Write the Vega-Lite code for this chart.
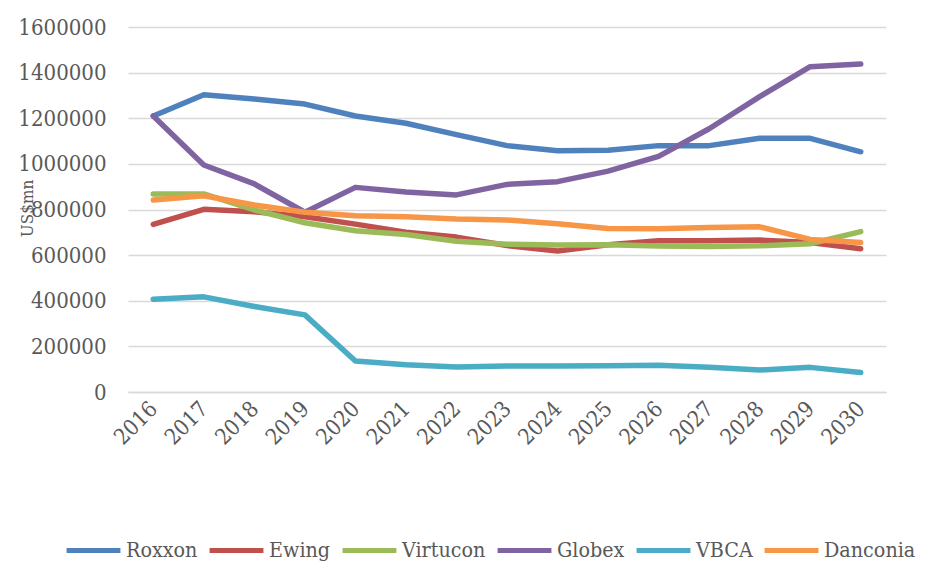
{
  "$schema": "https://vega.github.io/schema/vega-lite/v6.json",
  "autosize": {"type": "none"},
  "width": 758,
  "height": 365,
  "padding": {"left": 128, "top": 27, "right": 63, "bottom": 190},
  "background": "white",
  "config": {
    "view": {"stroke": null},
    "font": "DejaVu Serif Condensed"
  },
  "data": {
    "values": [
      {"year": "2016", "company": "Roxxon", "value": 1210000},
      {"year": "2017", "company": "Roxxon", "value": 1303000},
      {"year": "2018", "company": "Roxxon", "value": 1284000},
      {"year": "2019", "company": "Roxxon", "value": 1262000},
      {"year": "2020", "company": "Roxxon", "value": 1210000},
      {"year": "2021", "company": "Roxxon", "value": 1178000},
      {"year": "2022", "company": "Roxxon", "value": 1128000},
      {"year": "2023", "company": "Roxxon", "value": 1080000},
      {"year": "2024", "company": "Roxxon", "value": 1058000},
      {"year": "2025", "company": "Roxxon", "value": 1060000},
      {"year": "2026", "company": "Roxxon", "value": 1080000},
      {"year": "2027", "company": "Roxxon", "value": 1080000},
      {"year": "2028", "company": "Roxxon", "value": 1112000},
      {"year": "2029", "company": "Roxxon", "value": 1112000},
      {"year": "2030", "company": "Roxxon", "value": 1053000},
      {"year": "2016", "company": "Ewing", "value": 735000},
      {"year": "2017", "company": "Ewing", "value": 801000},
      {"year": "2018", "company": "Ewing", "value": 790000},
      {"year": "2019", "company": "Ewing", "value": 768000},
      {"year": "2020", "company": "Ewing", "value": 736000},
      {"year": "2021", "company": "Ewing", "value": 700000},
      {"year": "2022", "company": "Ewing", "value": 679000},
      {"year": "2023", "company": "Ewing", "value": 642000},
      {"year": "2024", "company": "Ewing", "value": 618000},
      {"year": "2025", "company": "Ewing", "value": 645000},
      {"year": "2026", "company": "Ewing", "value": 663000},
      {"year": "2027", "company": "Ewing", "value": 663000},
      {"year": "2028", "company": "Ewing", "value": 666000},
      {"year": "2029", "company": "Ewing", "value": 655000},
      {"year": "2030", "company": "Ewing", "value": 628000},
      {"year": "2016", "company": "Virtucon", "value": 868000},
      {"year": "2017", "company": "Virtucon", "value": 868000},
      {"year": "2018", "company": "Virtucon", "value": 798000},
      {"year": "2019", "company": "Virtucon", "value": 742000},
      {"year": "2020", "company": "Virtucon", "value": 707000},
      {"year": "2021", "company": "Virtucon", "value": 690000},
      {"year": "2022", "company": "Virtucon", "value": 661000},
      {"year": "2023", "company": "Virtucon", "value": 648000},
      {"year": "2024", "company": "Virtucon", "value": 644000},
      {"year": "2025", "company": "Virtucon", "value": 645000},
      {"year": "2026", "company": "Virtucon", "value": 640000},
      {"year": "2027", "company": "Virtucon", "value": 638000},
      {"year": "2028", "company": "Virtucon", "value": 641000},
      {"year": "2029", "company": "Virtucon", "value": 650000},
      {"year": "2030", "company": "Virtucon", "value": 703000},
      {"year": "2016", "company": "Globex", "value": 1210000},
      {"year": "2017", "company": "Globex", "value": 995000},
      {"year": "2018", "company": "Globex", "value": 912000},
      {"year": "2019", "company": "Globex", "value": 788000},
      {"year": "2020", "company": "Globex", "value": 897000},
      {"year": "2021", "company": "Globex", "value": 877000},
      {"year": "2022", "company": "Globex", "value": 864000},
      {"year": "2023", "company": "Globex", "value": 910000},
      {"year": "2024", "company": "Globex", "value": 922000},
      {"year": "2025", "company": "Globex", "value": 968000},
      {"year": "2026", "company": "Globex", "value": 1033000},
      {"year": "2027", "company": "Globex", "value": 1154000},
      {"year": "2028", "company": "Globex", "value": 1295000},
      {"year": "2029", "company": "Globex", "value": 1426000},
      {"year": "2030", "company": "Globex", "value": 1438000},
      {"year": "2016", "company": "VBCA", "value": 407000},
      {"year": "2017", "company": "VBCA", "value": 417000},
      {"year": "2018", "company": "VBCA", "value": 375000},
      {"year": "2019", "company": "VBCA", "value": 338000},
      {"year": "2020", "company": "VBCA", "value": 136000},
      {"year": "2021", "company": "VBCA", "value": 119000},
      {"year": "2022", "company": "VBCA", "value": 110000},
      {"year": "2023", "company": "VBCA", "value": 114000},
      {"year": "2024", "company": "VBCA", "value": 114000},
      {"year": "2025", "company": "VBCA", "value": 115000},
      {"year": "2026", "company": "VBCA", "value": 117000},
      {"year": "2027", "company": "VBCA", "value": 108000},
      {"year": "2028", "company": "VBCA", "value": 96000},
      {"year": "2029", "company": "VBCA", "value": 108000},
      {"year": "2030", "company": "VBCA", "value": 85000},
      {"year": "2016", "company": "Danconia", "value": 842000},
      {"year": "2017", "company": "Danconia", "value": 860000},
      {"year": "2018", "company": "Danconia", "value": 820000},
      {"year": "2019", "company": "Danconia", "value": 788000},
      {"year": "2020", "company": "Danconia", "value": 773000},
      {"year": "2021", "company": "Danconia", "value": 768000},
      {"year": "2022", "company": "Danconia", "value": 758000},
      {"year": "2023", "company": "Danconia", "value": 754000},
      {"year": "2024", "company": "Danconia", "value": 738000},
      {"year": "2025", "company": "Danconia", "value": 717000},
      {"year": "2026", "company": "Danconia", "value": 716000},
      {"year": "2027", "company": "Danconia", "value": 721000},
      {"year": "2028", "company": "Danconia", "value": 724000},
      {"year": "2029", "company": "Danconia", "value": 669000},
      {"year": "2030", "company": "Danconia", "value": 655000}
    ]
  },
  "mark": {"type": "line", "strokeWidth": 5.5, "strokeCap": "round", "strokeJoin": "round"},
  "encoding": {
    "x": {
      "field": "year",
      "type": "ordinal",
      "scale": {"type": "point", "padding": 0.5},
      "axis": {
        "title": null,
        "labelAngle": -45,
        "labelAlign": "right",
        "labelBaseline": "middle",
        "labelPadding": 13,
        "labelFontSize": 22,
        "labelColor": "#595959",
        "labelFont": "DejaVu Serif Condensed",
        "ticks": false,
        "domainColor": "#d9d9d9",
        "domainWidth": 1.5,
        "grid": false
      }
    },
    "y": {
      "field": "value",
      "type": "quantitative",
      "scale": {"domain": [0, 1600000], "nice": false},
      "axis": {
        "title": "US$mn",
        "titleFont": "DejaVu Serif Condensed",
        "titleFontWeight": "normal",
        "titleFontSize": 17,
        "titleColor": "#595959",
        "titleX": -101,
        "titleY": 181,
        "titleAngle": -90,
        "titleAlign": "center",
        "titleBaseline": "middle",
        "values": [0, 200000, 400000, 600000, 800000, 1000000, 1200000, 1400000, 1600000],
        "format": "d",
        "labelFontSize": 22,
        "labelColor": "#595959",
        "labelFont": "DejaVu Serif Condensed",
        "labelPadding": 22,
        "ticks": false,
        "domain": false,
        "gridColor": "#d9d9d9",
        "gridWidth": 1.5
      }
    },
    "color": {
      "field": "company",
      "type": "nominal",
      "sort": ["Roxxon", "Ewing", "Virtucon", "Globex", "VBCA", "Danconia"],
      "scale": {
        "domain": ["Roxxon", "Ewing", "Virtucon", "Globex", "VBCA", "Danconia"],
        "range": ["#4F81BD", "#C0504D", "#9BBB59", "#8064A2", "#4BACC6", "#F79646"]
      },
      "legend": {
        "title": null,
        "orient": "none",
        "direction": "horizontal",
        "legendX": -64,
        "legendY": 494,
        "symbolType": "stroke",
        "symbolSize": 2900,
        "symbolStrokeWidth": 5,
        "labelFontSize": 21.3,
        "labelColor": "#595959",
        "labelFont": "DejaVu Serif Condensed",
        "labelOffset": 3,
        "columnPadding": 1
      }
    }
  }
}
